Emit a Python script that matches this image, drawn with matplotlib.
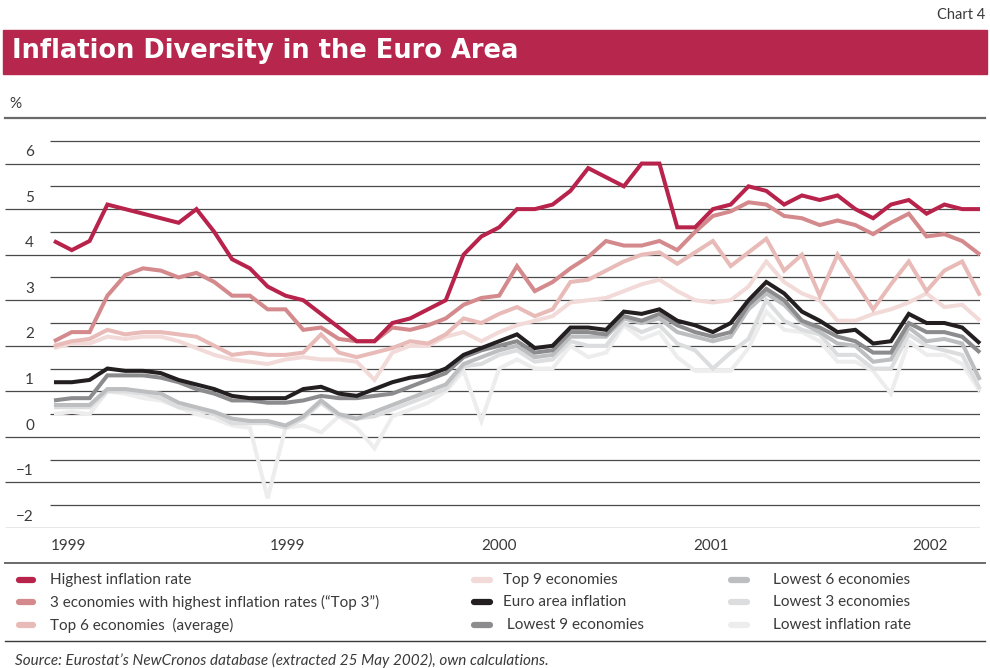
import matplotlib.pyplot as plt
import matplotlib.transforms as mtransforms
from matplotlib.lines import Line2D
from matplotlib.patches import Rectangle
import numpy as np

# Monthly inflation rates, Jan 1998 - May 2002 (%)
highest = [4.3, 4.1, 4.3, 5.1, 5.0, 4.9, 4.8, 4.7, 5.0, 4.5, 3.9,
           3.7, 3.3, 3.1, 3.0, 2.7, 2.4, 2.1, 2.1, 2.5, 2.6, 2.8,
           3.0, 4.0, 4.4, 4.6, 5.0, 5.0, 5.1, 5.4, 5.9, 5.7,
           5.5, 6.0, 6.0, 4.6, 4.6, 5.0, 5.1, 5.5, 5.4, 5.1,
           5.3, 5.2, 5.3, 5.0, 4.8, 5.1, 5.2, 4.9, 5.1, 5.0, 5.0]
top3 = [2.1, 2.3, 2.3, 3.1, 3.55, 3.7, 3.65, 3.5, 3.6, 3.4, 3.1,
        3.1, 2.8, 2.8, 2.35, 2.4, 2.15, 2.1, 2.1, 2.4, 2.35, 2.45,
        2.6, 2.9, 3.05, 3.1, 3.75, 3.2, 3.4, 3.7, 3.95, 4.3,
        4.2, 4.2, 4.3, 4.1, 4.5, 4.85, 4.95, 5.15, 5.1, 4.85,
        4.8, 4.65, 4.75, 4.65, 4.45, 4.7, 4.9, 4.4, 4.45, 4.3, 4.0]
top6 = [2.0, 2.1, 2.15, 2.35, 2.25, 2.3, 2.3, 2.25, 2.2, 2.0, 1.8,
        1.85, 1.8, 1.8, 1.85, 2.25, 1.85, 1.75, 1.85, 1.95, 2.1, 2.05,
        2.25, 2.6, 2.5, 2.7, 2.85, 2.65, 2.8, 3.4, 3.45, 3.65,
        3.85, 4.0, 4.05, 3.8, 4.05, 4.3, 3.75, 4.05, 4.35, 3.65,
        4.0, 3.1, 4.0, 3.4, 2.8, 3.35, 3.85, 3.2, 3.65, 3.85, 3.1]
top9 = [1.95, 2.05, 2.05, 2.2, 2.15, 2.2, 2.2, 2.1, 1.95, 1.8, 1.7,
        1.65, 1.6, 1.7, 1.75, 1.7, 1.7, 1.65, 1.25, 1.85, 2.0, 2.0,
        2.2, 2.3, 2.1, 2.3, 2.45, 2.55, 2.65, 2.95, 3.0, 3.05,
        3.2, 3.35, 3.45, 3.2, 3.0, 2.95, 3.0, 3.3, 3.85, 3.4,
        3.15, 3.0, 2.55, 2.55, 2.7, 2.8, 2.95, 3.15, 2.85, 2.9, 2.55]
euro = [1.2, 1.2, 1.25, 1.5, 1.45, 1.45, 1.4, 1.25, 1.15, 1.05, 0.9,
        0.85, 0.85, 0.85, 1.05, 1.1, 0.95, 0.9, 1.05, 1.2, 1.3, 1.35,
        1.5, 1.8, 1.95, 2.1, 2.25, 1.95, 2.0, 2.4, 2.4, 2.35,
        2.75, 2.7, 2.8, 2.55, 2.45, 2.3, 2.5, 3.0, 3.4, 3.15,
        2.75, 2.55, 2.3, 2.35, 2.05, 2.1, 2.7, 2.5, 2.5, 2.4, 2.05]
low9 = [0.8, 0.85, 0.85, 1.35, 1.35, 1.35, 1.3, 1.2, 1.05, 0.95, 0.8,
        0.8, 0.75, 0.75, 0.8, 0.9, 0.85, 0.85, 0.9, 0.95, 1.1, 1.25,
        1.4, 1.75, 1.9, 2.0, 2.1, 1.85, 1.9, 2.3, 2.3, 2.25,
        2.65, 2.55, 2.7, 2.45, 2.3, 2.2, 2.3, 2.9, 3.25, 3.0,
        2.55, 2.4, 2.2, 2.1, 1.85, 1.85, 2.5, 2.3, 2.3, 2.2, 1.85]
low6 = [0.7, 0.7, 0.7, 1.05, 1.05, 1.0, 0.95, 0.75, 0.65, 0.55, 0.4,
        0.35, 0.35, 0.25, 0.45, 0.8, 0.5, 0.4, 0.55, 0.7, 0.85, 1.0,
        1.15, 1.6, 1.75, 1.9, 2.0, 1.75, 1.8, 2.2, 2.2, 2.2,
        2.6, 2.5, 2.6, 2.3, 2.2, 2.1, 2.2, 2.8, 3.15, 2.9,
        2.5, 2.3, 2.05, 2.0, 1.65, 1.7, 2.4, 2.1, 2.15, 2.05, 1.25]
low3 = [0.65, 0.65, 0.65, 1.0, 1.0, 0.95, 0.85, 0.65, 0.6, 0.5, 0.3,
        0.3, 0.3, 0.2, 0.4, 0.75, 0.45, 0.4, 0.45, 0.6, 0.75, 0.9,
        1.05, 1.55, 1.6, 1.8, 1.9, 1.65, 1.7, 2.1, 2.0, 2.0,
        2.5, 2.3, 2.45, 2.05, 1.9, 1.5, 1.85, 2.15, 3.0, 2.55,
        2.35, 2.25, 1.8, 1.8, 1.5, 1.5, 2.25, 2.0, 1.9, 1.8, 1.05]
lowest = [0.5, 0.55, 0.5, 1.0, 0.95, 0.85, 0.8, 0.65, 0.5, 0.4, 0.25,
          0.2, -1.35, 0.2, 0.25, 0.1, 0.45, 0.2, -0.25, 0.45, 0.6, 0.75,
          1.0, 1.45, 0.35, 1.5, 1.7, 1.5, 1.5, 2.0, 1.75, 1.85,
          2.45, 2.15, 2.3, 1.75, 1.45, 1.45, 1.45, 1.95, 2.75, 2.35,
          2.3, 2.1, 1.65, 1.65, 1.45, 0.95, 2.1, 1.8, 1.8, 1.6, 1.0]

year_labels = ['1999', '1999', '2000', '2001', '2002']
year_pos = [0.8, 13.1, 25.0, 36.9, 49.2]
y_ticks = [6, 5, 4, 3, 2, 1, 0, -1, -2]

labels = ['Highest inflation rate',
          '3 economies with highest inflation rates (\u201cTop 3\u201d)',
          'Top 6 economies  (average)',
          'Top 9 economies', 'Euro area inflation', ' Lowest 9 economies',
          'Lowest 6 economies', 'Lowest 3 economies', 'Lowest inflation rate']
series = [highest, top3, top6, top9, euro, low9, low6, low3, lowest]
colors = ['#b8234c', '#d48a8c', '#e8bbb8', '#f2dad8', '#231f20',
          '#8c8c8e', '#bdbec0', '#dcddde', '#ededee']

W, H = 990, 668
RED = '#b6264d'
TXT = '#3a3a3a'
plt.rcParams['font.family'] = ['Lato', 'DejaVu Sans']


def fx(x):
    return x / W


def fy(y):
    return 1 - y / H


fig = plt.figure(figsize=(W / 100, H / 100), dpi=100)

# title bar
fig.patches.append(Rectangle((fx(3), fy(74)), fx(984), 44 / H,
                             transform=fig.transFigure, color=RED, zorder=0))
fig.text(fx(12), fy(51), 'Inflation Diversity in the Euro Area',
         color='white', fontsize=18.5, fontweight='black',
         family=['DejaVu Sans'], va='center', ha='left')
fig.text(fx(985), fy(15), 'Chart 4', color=TXT, fontsize=10.5,
         ha='right', va='center')
fig.text(fx(9), fy(104), '%', color=TXT, fontsize=11, ha='left', va='center')

# plot area
ax = fig.add_axes([fx(5), fy(528), fx(975), 410 / H])
ax.set_xlim(-2.75, 52)
ax.set_ylim(-2, 7)
ax.axis('off')

for v in range(-2, 7):
    ax.hlines(v, -2.75, 52, color='#4a4a4a', lw=0.9, zorder=1)
for v in np.arange(-1.5, 7, 1.0):
    ax.hlines(v, -0.22, 52, color='#4a4a4a', lw=0.9, zorder=1)
fig.add_artist(Line2D([fx(5), fx(985)], [fy(118), fy(118)],
                      color='#6a6a6a', lw=1.6))

tr = mtransforms.blended_transform_factory(fig.transFigure, ax.transData)
for v in y_ticks:
    lab = str(v).replace('-', '\u2212')
    ax.text(fx(34), v + 0.25, lab, transform=tr, ha='right', va='center',
            color=TXT, fontsize=11)

for p, lab in zip(year_pos, year_labels):
    ax.text(p, -2.4, lab, ha='center', va='center', color=TXT,
            fontsize=11, clip_on=False)

months = np.arange(len(highest))
order = [8, 7, 6, 5, 3, 2, 1, 0, 4]
for k in order:
    ax.plot(months, series[k], color=colors[k], lw=2.9,
            solid_joinstyle='miter', solid_capstyle='butt',
            zorder=3 + order.index(k), clip_on=False)

# legend block
fig.add_artist(Line2D([fx(5), fx(985)], [fy(563), fy(563)],
                      color='#6a6a6a', lw=1.4))
fig.add_artist(Line2D([fx(5), fx(985)], [fy(641), fy(641)],
                      color='#3a3a3a', lw=1.0))
col_mark = [(19, 33), (474, 490), (731, 747)]
col_text = [50, 503, 773]
row_y = [580, 602, 625]
for k, lab in enumerate(labels):
    c, r = divmod(k, 3)
    x0, x1 = col_mark[c]
    fig.add_artist(Line2D([fx(x0), fx(x1)], [fy(row_y[r]), fy(row_y[r])],
                          color=colors[k], lw=4.5, solid_capstyle='round'))
    fig.text(fx(col_text[c]), fy(row_y[r]), lab, color=TXT, fontsize=11,
             ha='left', va='center')

fig.text(fx(15), fy(660),
         'Source: Eurostat\u2019s NewCronos database (extracted 25 May 2002), '
         'own calculations.',
         color=TXT, fontsize=11, style='italic', ha='left', va='center')

fig.savefig('out.png', dpi=100)
